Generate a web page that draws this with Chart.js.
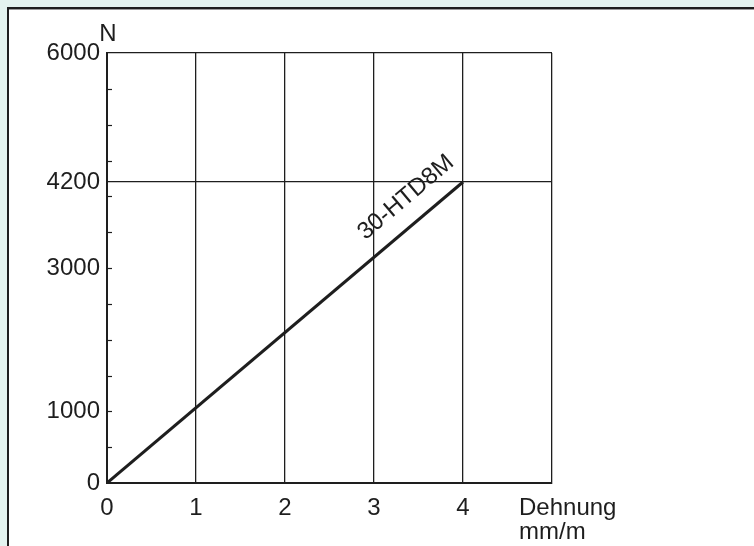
<!DOCTYPE html>
<html>
<head>
<meta charset="utf-8">
<script src="https://cdn.jsdelivr.net/npm/chart.js@4"></script>
<style>
  html, body { margin: 0; padding: 0; width: 754px; height: 546px; overflow: hidden; background: #e4f3ef; }
  #panel { position: absolute; left: 7px; top: 7px; width: 800px; height: 600px; background: #fff;
           border-left: 2px solid #1e1e1e; border-top: 2px solid #1e1e1e; box-shadow: 0 1px 0 #9a9a9a inset; }
  #chart { position: absolute; left: 0; top: 0; }
</style>
</head>
<body>
<div id="panel"></div>
<canvas id="chart" width="754" height="546"></canvas>
<script>
// data
const xValues = [0, 4];            // Dehnung, mm/m
const yValues = [0, 4200];         // N
const seriesLabel = "30-HTD8M";
const xTickLabels = ["0", "1", "2", "3", "4"];
const yLabelTicks = [0, 1000, 3000, 4200, 6000];
const yMinorTicks = [0, 500, 1000, 1500, 2000, 2500, 3000, 3500, 4000, 4200, 4500, 5000, 5500, 6000];
const xTitle = ["Dehnung", "mm/m"];
const yTitle = "N";

const ink = "#1e1e1e";
const FONT = "'Liberation Sans', Arial, Helvetica, sans-serif";

// small inward tick marks on the y axis
const minorTicksPlugin = {
  id: "minorTicks",
  afterDatasetsDraw(chart) {
    const { ctx, chartArea } = chart;
    const y = chart.scales.y;
    ctx.save();
    ctx.strokeStyle = ink;
    ctx.lineWidth = 1.2;
    yMinorTicks.forEach(v => {
      if (v === 0 || v === 6000 || v === 4200) return;
      const py = Math.round(y.getPixelForValue(v)) + 0.5;
      ctx.beginPath();
      ctx.moveTo(chartArea.left, py);
      ctx.lineTo(chartArea.left + 5, py);
      ctx.stroke();
    });
    ctx.restore();
  }
};

// axis titles + series label along the line
const textPlugin = {
  id: "texts",
  afterDraw(chart) {
    const { ctx } = chart;
    const xs = chart.scales.x, ys = chart.scales.y;
    ctx.save();
    ctx.fillStyle = ink;
    ctx.font = `24px ${FONT}`;

    // N above the y axis
    ctx.textAlign = "center";
    ctx.textBaseline = "alphabetic";
    ctx.fillText(yTitle, xs.getPixelForValue(0) + 1, ys.getPixelForValue(6000) - 12);

    // Dehnung / mm/m to the right of the last label
    ctx.textAlign = "left";
    const tx = xs.getPixelForValue(4) + 56;
    const by = ys.getPixelForValue(0);
    ctx.fillText(xTitle[0], tx, by + 32);
    ctx.fillText(xTitle[1], tx, by + 56);

    // series label
    const p0 = { x: xs.getPixelForValue(xValues[0]), y: ys.getPixelForValue(yValues[0]) };
    const p1 = { x: xs.getPixelForValue(xValues[1]), y: ys.getPixelForValue(yValues[1]) };
    const a = Math.atan2(p1.y - p0.y, p1.x - p0.x);
    const t = 0.885, off = 25;
    const cx = p0.x + t * (p1.x - p0.x) + off * Math.sin(a);
    const cy = p0.y + t * (p1.y - p0.y) - off * Math.cos(a);
    ctx.translate(cx, cy);
    ctx.rotate(a);
    ctx.textAlign = "center";
    ctx.textBaseline = "middle";
    ctx.fillText(seriesLabel, 0, 0);
    ctx.restore();
  }
};

new Chart(document.getElementById("chart"), {
  type: "line",
  data: {
    datasets: [{
      label: seriesLabel,
      data: xValues.map((x, i) => ({ x, y: yValues[i] })),
      borderColor: ink,
      borderWidth: 3,
      pointRadius: 0,
      tension: 0,
      fill: false
    }]
  },
  options: {
    responsive: false,
    animation: false,
    layout: { padding: { left: 0, top: 53, right: 202, bottom: 0 } },
    plugins: { legend: { display: false }, tooltip: { enabled: false } },
    scales: {
      x: {
        type: "linear", min: 0, max: 5,
        ticks: {
          stepSize: 1, autoSkip: false, maxRotation: 0, padding: 11,
          color: ink, font: { size: 24, family: FONT },
          callback: v => xTickLabels[v] ?? ""
        },
        grid: { color: c => (c.tick && c.tick.value > 0) ? ink : "transparent", lineWidth: 1.3, drawTicks: false },
        border: { color: ink, width: 2 },
        afterFit: s => { s.height = 63; }
      },
      y: {
        type: "linear", min: 0, max: 6000,
        afterBuildTicks: s => { s.ticks = yMinorTicks.map(v => ({ value: v })); },
        ticks: {
          autoSkip: false, padding: 7,
          color: ink, font: { size: 24, family: FONT },
          callback: v => yLabelTicks.includes(v) ? String(v) : ""
        },
        grid: { color: c => (c.tick && (c.tick.value === 4200 || c.tick.value === 6000)) ? ink : "transparent", lineWidth: 1.3, drawTicks: false },
        border: { color: ink, width: 2 },
        afterFit: s => { s.width = 107; }
      }
    }
  },
  plugins: [minorTicksPlugin, textPlugin]
});
</script>
</body>
</html>
